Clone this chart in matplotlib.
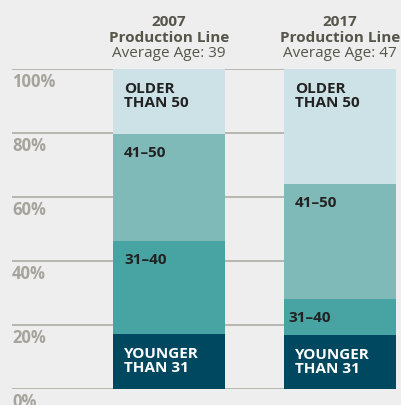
import matplotlib
matplotlib.use('Agg')
import matplotlib.pyplot as plt
import numpy as np

plt.rcParams['font.family'] = ['Open Sans', 'DejaVu Sans']

# data
years = ['2007', '2017']
avg_age = [39, 47]
groups = ['YOUNGER\nTHAN 31', '31-40', '41-50', 'OLDER\nTHAN 50']
shares = {
    '2007': [17.2, 29.1, 33.4, 20.3],
    '2017': [16.9, 11.2, 36.0, 35.9],
}
colors = ['#004860', '#48a4a2', '#7fbab8', '#cde2e7']
text_colors = ['white', '#222222', '#222222', '#222222']
yticks = [0, 20, 40, 60, 80, 100]

bg = '#edeeed'
fig = plt.figure(figsize=(4.02, 4.05), dpi=100, facecolor=bg)
ax = fig.add_axes([12/402, 16/405, 384/402, 320/405], facecolor=bg)

x = np.arange(len(years))
width = 0.655

# grid lines behind bars
for t in yticks:
    ax.axhline(t, color='#a8a79f', lw=1.1, zorder=1)

for i, yr in enumerate(years):
    bottom = 0
    for j, g in enumerate(groups):
        v = shares[yr][j]
        ax.bar(x[i], v, width, bottom=bottom, color=colors[j], zorder=2, linewidth=0)
        top = bottom + v
        dx = 8
        if v < 15:
            dx = 3
        dy = -13.7
        if '\n' in g:
            dy -= 5.8
        ax.annotate(g.replace('-', '\u2013'), xy=(x[i] - width/2, top), xytext=(dx, dy),
                    textcoords='offset points', ha='left', va='center',
                    fontsize=11, fontweight='bold', color=text_colors[j],
                    linespacing=1.0, zorder=3, annotation_clip=False)
        bottom = top
    # header
    ax.text(x[i], 114.7, yr, ha='center', va='center', fontsize=11,
            fontweight='bold', color='#55554a', clip_on=False)
    ax.text(x[i], 109.8, 'Production Line', ha='center', va='center', fontsize=11,
            fontweight='bold', color='#55554a', clip_on=False)
    ax.text(x[i], 104.8, 'Average Age: %d' % avg_age[i], ha='center', va='center',
            fontsize=11, color='#55554a', clip_on=False)

for t in yticks:
    ax.text(-0.918, t - 4.0, '%d%%' % t, ha='left', va='center', fontsize=12,
            fontweight='bold', color='#a5a49c', clip_on=False)

ax.set_xlim(-0.918, 1.328)
ax.set_ylim(0, 100)
ax.axis('off')

fig.savefig('out.png', dpi=100, facecolor=bg)
